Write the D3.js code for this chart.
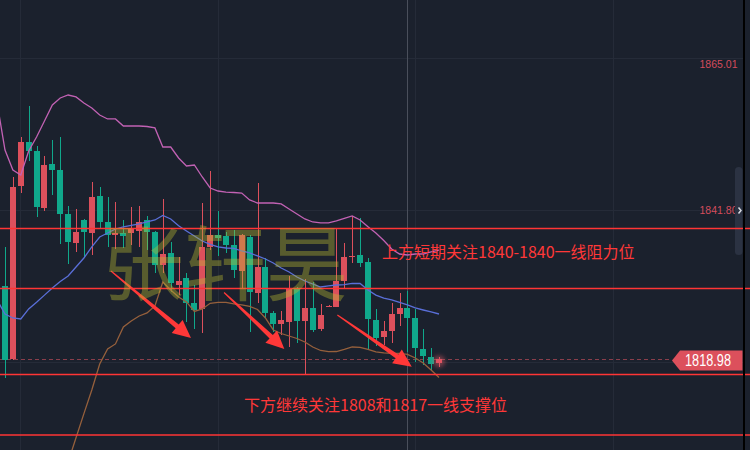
<!DOCTYPE html>
<html>
<head>
<meta charset="utf-8">
<script src="https://cdn.jsdelivr.net/npm/d3@7"></script>
<style>
  html, body { margin: 0; padding: 0; background: #1b212d; overflow: hidden; }
  svg { display: block; }
</style>
</head>
<body>
<svg id="chart" width="750" height="450"></svg>
<script>
// ---- price data (one entry per bar) ----
const barOpen  = [1830.20,1819.07,1845.46,1852.19,1850.81,1842.11,1848.88,1847.91,1841.19,1836.81,
                  1840.28,1838.33,1843.94,1839.97,1837.99,1838.33,1838.29,1838.60,1840.28,1838.44,
                  1833.40,1835.28,1830.35,1831.47,1827.65,1826.69,1836.20,1837.94,1837.83,1836.41,
                  1832.53,1837.68,1829.18,1833.05,1826.02,1824.40,1824.70,1829.85,1824.85,1826.88,
                  1823.63,1827.07,1826.95,1831.00,1834.63,1834.93,1833.86,1825.01,1822.41,1823.37,
                  1825.85,1826.84,1825.36,1820.58,1819.31,1818.39];
const barHigh  = [1836.11,1846.89,1852.91,1857.68,1851.58,1850.05,1852.49,1852.95,1842.41,1841.96,
                  1840.40,1846.08,1845.31,1843.79,1843.07,1840.28,1842.31,1842.41,1840.89,1838.60,
                  1843.48,1836.97,1834.58,1832.18,1830.35,1842.92,1847.76,1841.65,1838.44,1838.70,
                  1838.14,1837.99,1845.88,1834.42,1826.38,1826.38,1831.72,1830.04,1831.27,1830.81,
                  1827.40,1827.22,1839.00,1836.72,1840.94,1840.53,1834.42,1826.61,1824.85,1827.65,
                  1829.08,1829.43,1826.61,1823.59,1820.68,1819.36];
const barLow   = [1816.15,1818.90,1844.45,1849.33,1840.78,1841.65,1844.07,1836.66,1833.61,1835.39,
                  1834.42,1834.98,1838.90,1836.20,1835.85,1836.00,1836.46,1836.16,1835.69,1832.18,
                  1832.18,1829.33,1828.82,1824.75,1823.63,1823.02,1835.69,1834.78,1835.28,1831.47,
                  1829.85,1823.22,1827.56,1825.27,1823.11,1822.72,1820.93,1821.45,1816.76,1823.11,
                  1823.37,1826.99,1826.92,1829.69,1833.76,1833.15,1820.62,1821.04,1821.11,1821.45,
                  1824.14,1820.12,1818.59,1818.13,1817.37,1817.88];
const barClose = [1818.90,1845.36,1852.19,1850.86,1842.31,1848.72,1847.96,1841.24,1836.92,1838.44,
                  1838.49,1843.79,1839.97,1837.94,1838.33,1837.88,1838.98,1839.92,1838.49,1833.40,
                  1835.08,1830.70,1830.96,1827.56,1826.53,1836.20,1837.94,1837.58,1836.51,1832.64,
                  1837.94,1829.33,1833.05,1826.12,1824.40,1825.01,1829.79,1824.85,1826.88,1823.48,
                  1825.77,1827.14,1831.00,1834.67,1834.73,1833.66,1825.11,1822.18,1823.33,1825.92,
                  1826.84,1825.36,1820.68,1819.55,1818.24,1818.98];

// Bollinger bands; upper and middle start one bar before the first visible bar
const bandStart = -1;
const bandUpper = [1858.14,1850.96,1847.91,1847.15,1850.81,1852.95,1855.39,1857.84,1858.91,1859.36,
                   1859.06,1858.14,1857.38,1856.31,1855.70,1855.70,1854.63,1854.63,1854.63,1854.55,
                   1854.33,1851.42,1851.42,1849.74,1848.52,1848.67,1846.84,1845.16,1844.70,1844.54,
                   1844.47,1844.39,1843.33,1842.87,1842.87,1842.87,1842.72,1841.96,1841.19,1840.43,
                   1839.97,1839.82,1839.82,1840.13,1840.51,1840.89,1840.28,1839.25,1838.29,1837.15,
                   1835.85,1835.08,1834.93,1835.08,1835.08,1835.39,1835.69];
const bandMiddle = [1828.06,1825.92,1825.31,1825.16,1826.69,1827.72,1828.80,1829.89,1830.88,1831.72,
                    1833.10,1834.47,1836.16,1837.68,1838.29,1838.90,1839.21,1839.44,1839.67,1839.97,
                    1840.28,1840.96,1840.43,1839.40,1838.60,1837.83,1837.07,1836.54,1836.16,1836.00,
                    1835.93,1835.54,1835.24,1834.78,1834.32,1833.71,1832.95,1832.34,1831.57,1830.96,
                    1830.50,1830.04,1830.20,1830.35,1830.42,1830.58,1830.58,1829.59,1828.80,1828.34,
                    1828.06,1827.68,1827.30,1826.84,1826.53,1826.23,1825.92];
const lowerStart = 8;
const bandLower = [1803.32,1807.02,1810.70,1814.32,1818.29,1820.58,1821.35,1823.94,1824.85,1825.62,
                   1826.08,1827.15,1830.81,1829.59,1828.52,1827.76,1826.31,1826.69,1827.56,1827.68,
                   1827.68,1827.45,1827.30,1827.07,1826.61,1825.31,1823.48,1822.94,1822.56,1822.18,
                   1821.65,1820.88,1820.35,1820.16,1820.19,1820.50,1820.88,1820.81,1820.50,1820.12,
                   1819.97,1819.92,1819.92,1819.74,1819.20,1818.44,1817.37,1816.22];

// price scale labels / grid
const priceTicks = [1865.01, 1841.80, 1818.59];
const timeGrid = [1.84, 26.93, 52.02, 77.11];   // bar positions of the time grid
const crosshairBar = 51;
const lastPrice = 1818.98;

// drawn levels, arrows and notes
const levelPrices = [1838.98, 1829.82, 1816.68, 1807.45];
const arrowFrom = [[13.43, 1832.49], [27.76, 1829.20], [42.12, 1825.77]];
const arrowTo   = [[23.57, 1822.26], [35.40, 1820.58], [51.55, 1817.88]];
const noteTexts = ["上方短期关注1840-1840一线阻力位", "下方继续关注1808和1817一线支撑位"];
const noteAnchors = [[47.78, 1834.45], [30.29, 1811.10]];
const watermark = "张轩昊";

// ---- layout ----
const W = 750, H = 450, plotRight = 743;
const UP = "#dc505c", DOWN = "#10a88b";
const svg = d3.select("#chart");

const x = d3.scaleLinear().domain([0, 55]).range([5, 439]);
const y = d3.scaleLinear().domain([1865.01, 1841.80]).range([58, 210]);
const crisp = v => Math.round(v) + 0.5;

svg.append("rect").attr("width", W).attr("height", H).attr("fill", "#1b212d");

const defs = svg.append("defs");
defs.append("filter").attr("id", "glow").attr("x", "-100%").attr("y", "-100%").attr("width", "300%").attr("height", "300%")
  .append("feGaussianBlur").attr("stdDeviation", 2.2);

// grid
const grid = svg.append("g").attr("stroke", "#252b38").attr("stroke-width", 1);
grid.selectAll("line.h").data(priceTicks).join("line").attr("class", "h")
  .attr("x1", 0).attr("x2", plotRight).attr("y1", d => crisp(y(d))).attr("y2", d => crisp(y(d)));
grid.selectAll("line.v").data(timeGrid).join("line").attr("class", "v")
  .attr("x1", d => crisp(x(d))).attr("x2", d => crisp(x(d))).attr("y1", 0).attr("y2", H);

// crosshair
svg.append("line")
  .attr("x1", crisp(x(crosshairBar))).attr("x2", crisp(x(crosshairBar)))
  .attr("y1", 0).attr("y2", H).attr("stroke", "#4a4f5b").attr("stroke-width", 1);

// last price dashed line
const lastY = crisp(y(lastPrice));
svg.append("line").attr("x1", 0).attr("x2", 672).attr("y1", lastY).attr("y2", lastY)
  .attr("stroke", "#8a3e4b").attr("stroke-width", 1).attr("stroke-dasharray", "4,3");

// candles
const bars = d3.range(barOpen.length).map(i => ({
  i, o: barOpen[i], h: barHigh[i], l: barLow[i], c: barClose[i]
}));
const candles = svg.append("g");
bars.forEach(b => {
  const col = b.c >= b.o ? UP : DOWN;
  const bx = Math.round(x(b.i) - 3);
  const top = Math.round(y(Math.max(b.o, b.c)));
  const bot = Math.round(y(Math.min(b.o, b.c)));
  candles.append("rect").attr("x", bx + 3).attr("width", 1)
    .attr("y", Math.round(y(b.h))).attr("height", Math.max(1, Math.round(y(b.l)) - Math.round(y(b.h))))
    .attr("fill", col);
  candles.append("rect").attr("x", bx).attr("width", 6)
    .attr("y", top).attr("height", Math.max(1, bot - top)).attr("fill", col);
});

// glow on the live bar
const lastBar = bars[bars.length - 1];
svg.append("circle").attr("cx", x(lastBar.i)).attr("cy", y((lastBar.o + lastBar.c) / 2)).attr("r", 6)
  .attr("fill", "rgba(230,90,105,0.45)").attr("filter", "url(#glow)");

// Bollinger bands
const line = d3.line().x(d => x(d[0])).y(d => y(d[1]));
const series = (arr, start) => arr.map((v, k) => [start + k, v]);
svg.append("path").datum(series(bandUpper, bandStart)).attr("d", line)
  .attr("fill", "none").attr("stroke", "#c262b4").attr("stroke-width", 1.3);
svg.append("path").datum(series(bandMiddle, bandStart)).attr("d", line)
  .attr("fill", "none").attr("stroke", "#5a6fd8").attr("stroke-width", 1.3);
svg.append("path").datum(series(bandLower, lowerStart)).attr("d", line)
  .attr("fill", "none").attr("stroke", "#96603c").attr("stroke-width", 1.3);

// price scale labels (the one sitting under the last-price tag is hidden by it)
const tagY = y(lastPrice) + 1;
svg.append("g").selectAll("text")
  .data(priceTicks.filter(d => Math.abs(y(d) - tagY) > 12))
  .join("text")
  .attr("x", 737.5)
  .attr("y", d => Math.max(y(d), 64) + 3.8)
  .attr("text-anchor", "end")
  .attr("font-family", "Liberation Sans, Arial, sans-serif")
  .attr("font-size", 10.5)
  .attr("fill", "#d44c5c")
  .text(d => d.toFixed(2));

// scroll handle
svg.append("rect").attr("x", 735).attr("y", 167).attr("width", 7.5).attr("height", 88).attr("rx", 3.5)
  .attr("fill", "#2b3242");
svg.append("path").attr("d", "M738.5,207.5 L741,210.5 L738.5,213.5")
  .attr("fill", "none").attr("stroke", "#d8dbe2").attr("stroke-width", 1.5);

// horizontal levels
svg.append("g").selectAll("line").data(levelPrices).join("line")
  .attr("x1", 0).attr("x2", W)
  .attr("y1", d => y(d)).attr("y2", d => y(d))
  .attr("stroke", "#ff3535").attr("stroke-width", 1.6);

// arrows
function arrowPoints(p0, p1) {
  const x0 = x(p0[0]), y0 = y(p0[1]), x1 = x(p1[0]), y1 = y(p1[1]);
  const dx = x1 - x0, dy = y1 - y0, len = Math.hypot(dx, dy);
  const ux = dx / len, uy = dy / len, nx = -uy, ny = ux;
  const hl = 18, hw = 8.5, s0 = 0.6, s1 = 2.4;
  const bx = x1 - ux * hl, by = y1 - uy * hl;
  return [
    [x0 + nx * s0, y0 + ny * s0], [bx + nx * s1, by + ny * s1], [bx + nx * hw, by + ny * hw],
    [x1, y1],
    [bx - nx * hw, by - ny * hw], [bx - nx * s1, by - ny * s1], [x0 - nx * s0, y0 - ny * s0]
  ];
}
svg.append("g").selectAll("polygon").data(d3.range(arrowFrom.length)).join("polygon")
  .attr("points", k => arrowPoints(arrowFrom[k], arrowTo[k]).map(p => p.join(",")).join(" "))
  .attr("fill", "#ff3838");

// notes
svg.append("g").selectAll("text").data(noteTexts).join("text")
  .attr("x", (d, k) => x(noteAnchors[k][0]))
  .attr("y", (d, k) => y(noteAnchors[k][1]))
  .attr("font-family", "Noto Sans CJK SC, sans-serif")
  .attr("font-size", 16)
  .attr("fill", "#ff3838")
  .text(d => d);

// watermark
svg.append("text").attr("x", 102).attr("y", 294)
  .attr("font-family", "Noto Sans CJK SC, sans-serif")
  .attr("font-size", 82)
  .attr("fill", "rgba(190,190,50,0.38)")
  .text(watermark);

// last price tag
svg.append("polygon")
  .attr("points", [[672, tagY], [680, tagY - 10], [742.5, tagY - 10], [742.5, tagY + 10], [680, tagY + 10]].map(p => p.join(",")).join(" "))
  .attr("fill", UP);
svg.append("text").attr("x", 685).attr("y", tagY + 5.6)
  .attr("font-family", "Liberation Sans, Arial, sans-serif")
  .attr("font-size", 16)
  .attr("textLength", 46).attr("lengthAdjust", "spacingAndGlyphs")
  .attr("fill", "#ffffff")
  .text(lastPrice.toFixed(2));

// right border
svg.append("rect").attr("x", 743).attr("y", 0).attr("width", 2).attr("height", H).attr("fill", "#000");
</script>
</body>
</html>
